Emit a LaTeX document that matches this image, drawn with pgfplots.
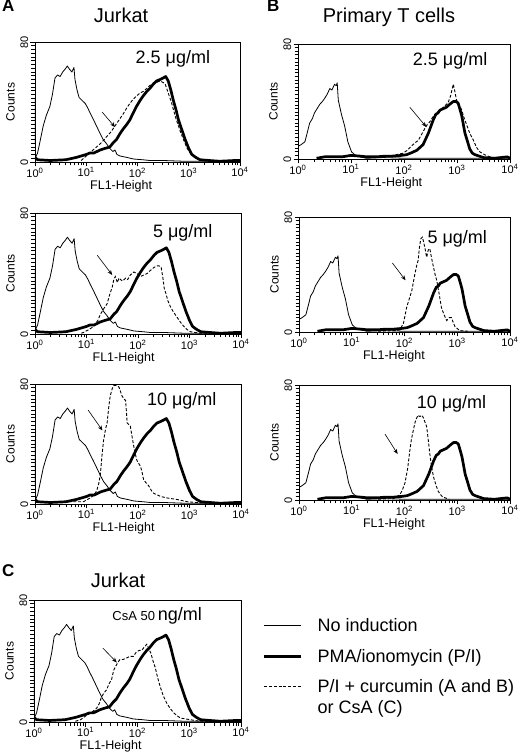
\documentclass[border=0pt]{standalone}
\usepackage{fontspec}
\setmainfont{Liberation Sans}
\usepackage{pgfplots}
\pgfplotsset{compat=1.18}
\usepackage{pgfplotstable}
\usetikzlibrary{arrows.meta}

% ---------- data (x = log10 FL1-Height, y = counts) ----------
\pgfplotstableread{
x y
0 43
0.01 3
0.05 6
0.10 14
0.16 24
0.22 31
0.29 37
0.34 45
0.39 56
0.44 58
0.49 57
0.54 60
0.59 62
0.63 64
0.67 62
0.72 60
0.76 63
0.78 55
0.82 48
0.86 43
0.92 41
0.98 39
1.03 36
1.07 33
1.13 29
1.20 24
1.27 19
1.33 15
1.40 12
1.46 9
1.52 7
1.56 8
1.60 5
1.66 4
1.80 3
1.92 2
2.10 1.5
2.24 1
2.50 1
2.90 0.5
3.5 0.5
4 0.5
}\Anone

\pgfplotstableread{
x y
0 3
0.05 1.5
0.3 1
0.6 1.5
0.8 3
0.9 4
1.0 5
1.07 6
1.15 6
1.27 8
1.36 9
1.46 10
1.53 13
1.59 15
1.66 19
1.72 22
1.79 25
1.85 28
1.92 33
1.98 37
2.05 41
2.11 44
2.18 47
2.24 49
2.31 52
2.37 54
2.44 55
2.50 56
2.55 57
2.60 54
2.65 48
2.70 41
2.75 35
2.80 28
2.86 22
2.93 15
3.00 9
3.06 5
3.14 3
3.22 1.5
3.4 1
3.6 0.5
3.9 1
4 1
}\API

\pgfplotstableread{
x y
0.9 1
1.0 4
1.1 7
1.2 10
1.3 13
1.4 17
1.48 20
1.56 24
1.62 27
1.66 29
1.72 32
1.79 36
1.85 39
1.92 42
1.98 44
2.05 46
2.11 47
2.18 49
2.24 51
2.31 52
2.37 53
2.44 54
2.50 53
2.54 52
2.58 48
2.62 44
2.66 40
2.70 35
2.75 29
2.80 24
2.85 19
2.92 13
2.97 9
3.03 6
3.09 4
3.2 2
3.4 1
3.8 0.5
}\Acura

\pgfplotstableread{
x y
0.9 0.5
0.94 1
1.05 3
1.14 5
1.22 9
1.27 13
1.34 17
1.40 20
1.45 26
1.50 31
1.53 36
1.56 38
1.60 34
1.63 37
1.66 36
1.70 35
1.76 37
1.80 36
1.85 39
1.92 41
1.98 40
2.05 38
2.11 39
2.18 40
2.24 42
2.31 44
2.37 45
2.41 45
2.45 44
2.48 38
2.51 30
2.54 27
2.58 22
2.63 18
2.68 15
2.76 11
2.82 8
2.89 5
2.95 3
3.02 1.5
3.2 0.5
4 0.5
}\Acurb

\pgfplotstableread{
x y
0 1
0.5 1.5
0.94 1.5
1.07 4
1.15 6
1.20 9
1.24 14
1.27 20
1.30 32
1.33 42
1.37 50
1.40 54
1.43 64
1.46 72
1.50 77
1.53 79
1.58 79
1.63 78
1.66 75
1.69 72
1.73 70
1.76 69
1.79 54
1.82 53
1.85 52
1.89 44
1.92 38
1.95 33
1.98 29
2.05 25
2.08 21
2.11 16
2.16 14
2.21 12
2.26 9
2.31 7
2.38 6
2.44 5
2.57 4
2.76 3
2.96 1.5
3.3 0.5
4 0.5
}\Acurc

\pgfplotstableread{
x y
0 43
0.01 9
0.06 10
0.13 12
0.18 19
0.22 25
0.27 28
0.31 32
0.36 35
0.41 38
0.46 40
0.50 42
0.55 45
0.60 49
0.64 48
0.69 52
0.72 51
0.74 53
0.76 41
0.82 31
0.88 23
0.94 12
1.01 5
1.10 2
1.29 0.5
1.6 1
2.0 0.5
4 0.5
}\Bnone

\pgfplotstableread{
x y
0.35 0.5
0.5 1.5
0.83 1.5
1.0 2.5
1.17 2
1.3 1.5
1.48 1.5
1.65 2
1.80 2
1.95 2.5
2.05 3
2.15 4.5
2.24 6
2.30 8
2.36 10
2.41 14
2.46 18
2.50 22
2.55 27
2.60 31
2.64 32
2.68 34
2.74 35
2.80 36
2.86 38
2.93 40
2.98 40
3.02 39
3.06 34
3.09 30
3.12 24
3.15 18
3.20 12
3.24 7
3.29 4
3.34 3
3.50 1
3.7 0.5
3.95 1.5
4 0.5
}\BPI

\pgfplotstableread{
x y
1.3 1
1.48 1.5
1.7 2
1.85 3
1.98 4
2.06 6
2.14 9
2.20 11
2.27 13
2.33 17
2.39 21
2.44 24
2.49 26
2.54 29
2.58 31
2.64 33
2.71 35
2.77 37
2.83 39
2.88 44
2.91 49
2.93 52
2.96 47
2.99 41
3.04 38
3.09 34
3.13 29
3.18 24
3.24 18
3.31 13
3.37 8
3.43 5
3.52 3
3.62 1.5
3.8 0.5
}\Bcura

\pgfplotstableread{
x y
1.5 0.5
1.85 1
1.91 1.5
1.98 6
2.04 17
2.09 23
2.14 29
2.17 35
2.20 41
2.23 46
2.26 50
2.28 58
2.31 65
2.34 66
2.36 63
2.39 58
2.42 52
2.45 57
2.48 58
2.51 52
2.55 45
2.58 40
2.61 36
2.65 28
2.70 17
2.75 12
2.80 8
2.85 10
2.89 10
2.93 6
2.96 3.5
3.05 1
3.2 0.5
}\Bcurb

\pgfplotstableread{
x y
1.5 0.5
1.79 1
1.91 3.5
1.96 7
2.01 12
2.06 22
2.10 34
2.13 42
2.17 49
2.20 54
2.23 57
2.26 59
2.29 58
2.33 59
2.36 57
2.39 54
2.42 51
2.45 42
2.48 32
2.51 24
2.55 16
2.60 10
2.64 6
2.70 3
2.73 2
2.85 0.5
}\Bcurc

\pgfplotstableread{
x y
0.8 0.5
0.9 1.5
1.0 4
1.1 6
1.21 9
1.26 12
1.30 16
1.35 19
1.40 21
1.45 25
1.50 28
1.54 34
1.57 36
1.62 39
1.66 41
1.72 41
1.79 42
1.85 43
1.92 43
1.98 46
2.04 47
2.08 47
2.13 49
2.18 51
2.22 48
2.26 45
2.30 40
2.34 36
2.39 29
2.44 23
2.50 17
2.57 12
2.63 9
2.70 6
2.77 4
2.83 2.6
3.02 1.5
3.2 0.5
4 0.5
}\Ccur

\tikzset{
  nonind/.style={black, line width=0.8pt, line join=round},
  pistyle/.style={black, line width=2.7pt, line join=round},
  curstyle/.style={black, line width=0.9pt, dash pattern=on 3pt off 1.8pt},
  arr/.style={-{Stealth[length=5pt,width=4pt]}, line width=0.6pt},
}
\pgfplotsset{
  xlab/.style={x label style={at={([yshift=-18pt]axis description cs:#1,0)}}},
  panel/.style={
    scale only axis,
    xmin=0, xmax=4, ymin=0, ymax=80,
    axis line style={line width=0.9pt},
    xtick pos=bottom,
    ytick pos=left,
    xtick align=outside,
    ytick align=outside,
    xmajorticks=true, ymajorticks=true, xminorticks=true, yminorticks=true,
    major tick style={draw=black, line width=0.9pt},
    minor tick style={draw=black, line width=0.8pt},
    major tick length=4.5pt, minor tick length=3.5pt,
    xtick={0,1,2,3,4},
    xticklabels={10\textsuperscript{0},10\textsuperscript{1},10\textsuperscript{2},10\textsuperscript{3},10\textsuperscript{4}},
    minor xtick={0.301,0.477,0.602,0.699,0.778,0.845,0.903,0.954,
                 1.301,1.477,1.602,1.699,1.778,1.845,1.903,1.954,
                 2.301,2.477,2.602,2.699,2.778,2.845,2.903,2.954,
                 3.301,3.477,3.602,3.699,3.778,3.845,3.903,3.954},
    ytick={0,80}, yticklabels={0,80},
    minor ytick={2.5,5,7.5,10,12.5,15,17.5,20,22.5,25,27.5,30,32.5,35,37.5,40,
                 42.5,45,47.5,50,52.5,55,57.5,60,62.5,65,67.5,70,72.5,75,77.5},
    xticklabel style={font=\fontsize{11}{12}\selectfont, inner sep=1pt},
    yticklabel style={font=\fontsize{11}{12}\selectfont, rotate=90, anchor=south, inner sep=1pt},
    yticklabel shift=1pt,
    xlabel={FL1-Height}, ylabel={Counts},
    every axis x label/.style={font=\fontsize{12.5}{13}\selectfont, anchor=north, inner sep=0pt},
    every axis y label/.style={font=\fontsize{12}{13}\selectfont, rotate=90, anchor=south, inner sep=0pt,
        at={([xshift=-20pt]axis description cs:0,0.5)}},
  }
}

\newcommand{\lab}[1]{\fontsize{18}{18}\selectfont #1}

\begin{document}
\begin{tikzpicture}
\useasboundingbox (0,0) rectangle (520pt,756pt);

% headings
\node[anchor=base west, font=\fontsize{17}{17}\selectfont\bfseries, inner sep=0pt] at (2pt,744pt) {A};
\node[anchor=base, font=\fontsize{20}{20}\selectfont, inner sep=0pt] at (121pt,733pt) {Jurkat};
\node[anchor=base west, font=\fontsize{17}{17}\selectfont\bfseries, inner sep=0pt] at (267pt,744pt) {B};
\node[anchor=base, font=\fontsize{20}{20}\selectfont, inner sep=0pt] at (389pt,733pt) {Primary T cells};
\node[anchor=base west, font=\fontsize{17}{17}\selectfont\bfseries, inner sep=0pt] at (2pt,179pt) {C};
\node[anchor=base, font=\fontsize{20}{20}\selectfont, inner sep=0pt] at (118pt,168pt) {Jurkat};

% ---- A top ----
\begin{axis}[panel, xlab=0.42, width=205pt, height=120pt, at={(35pt,594pt)}, anchor=south west]
\addplot[nonind] table {\Anone};
\addplot[curstyle] table {\Acura};
\addplot[pistyle] table {\API};
\draw[arr] (axis cs:1.31,33.3) -- (axis cs:1.56,23.3);
\node at (axis cs:2.69,68.7) {\lab{2.5 μg/ml}};
\end{axis}

% ---- A middle ----
\begin{axis}[panel, xlab=0.43, width=206pt, height=121pt, at={(35pt,422pt)}, anchor=south west]
\addplot[nonind] table {\Anone};
\addplot[curstyle] table {\Acurb};
\addplot[pistyle] table {\API};
\draw[arr] (axis cs:1.21,52) -- (axis cs:1.50,39);
\node at (axis cs:2.87,67) {\lab{5 μg/ml}};
\end{axis}

% ---- A bottom ----
\begin{axis}[panel, xlab=0.43, width=206pt, height=120pt, at={(35pt,252pt)}, anchor=south west]
\addplot[nonind] table {\Anone};
\addplot[curstyle] table {\Acurc};
\addplot[pistyle] table {\API};
\draw[arr] (axis cs:1.03,62.7) -- (axis cs:1.31,49);
\node at (axis cs:2.85,68.7) {\lab{10 μg/ml}};
\end{axis}

% ---- B top ----
\begin{axis}[panel, xlab=0.44, width=212pt, height=115pt, at={(298pt,597pt)}, anchor=south west]
\addplot[nonind] table {\Bnone};
\addplot[curstyle] table {\Bcura};
\addplot[pistyle] table {\BPI};
\draw[arr] (axis cs:2.11,36) -- (axis cs:2.42,22.3);
\node at (axis cs:2.87,68) {\lab{2.5 μg/ml}};
\end{axis}

% ---- B middle ----
\begin{axis}[panel, xlab=0.45, width=211pt, height=115pt, at={(299pt,424pt)}, anchor=south west]
\addplot[nonind] table {\Bnone};
\addplot[curstyle] table {\Bcurb};
\addplot[pistyle] table {\BPI};
\draw[arr] (axis cs:1.77,48) -- (axis cs:2.02,36);
\node at (axis cs:3.0,65) {\lab{5 μg/ml}};
\end{axis}

% ---- B bottom ----
\begin{axis}[panel, xlab=0.45, width=211pt, height=115pt, at={(299pt,256pt)}, anchor=south west]
\addplot[nonind] table {\Bnone};
\addplot[curstyle] table {\Bcurc};
\addplot[pistyle] table {\BPI};
\draw[arr] (axis cs:1.63,45.9) -- (axis cs:1.87,32);
\node at (axis cs:2.89,67) {\lab{10 μg/ml}};
\end{axis}

% ---- C ----
\begin{axis}[panel, xlab=0.37, width=207pt, height=122pt, at={(34pt,34pt)}, anchor=south west,
  legend style={at={(axis description cs:1.09,0.875)}, anchor=north west, draw=none, fill=none,
    font=\fontsize{18}{21}\selectfont, column sep=14pt, row sep=14pt, cells={align=left}, nodes={inner sep=1pt}},
  legend cell align=left,
  legend image code/.code={\draw[#1] (0pt,0pt) -- (37pt,0pt);}]
\addplot[nonind, forget plot] table {\Anone};
\addplot[curstyle, forget plot] table {\Ccur};
\addplot[pistyle, forget plot] table {\API};
\addlegendimage{nonind}
\addlegendentry{No induction}
\addlegendimage{pistyle}
\addlegendentry{PMA/ionomycin (P/I)}
\addlegendimage{curstyle, legend image code/.code={\draw[black, line width=0.9pt, dash pattern=on 3pt off 1.8pt] (0pt,10.5pt) -- (37pt,10.5pt);}}
\addlegendentry{P/I + curcumin (A and B)\\or CsA (C)}
\draw[arr] (axis cs:1.33,48.5) -- (axis cs:1.60,39);
\node at (axis cs:2.38,69.5) {{\fontsize{13}{13}\selectfont CsA 50} \lab{ng/ml}};
\end{axis}
\end{tikzpicture}
\end{document}
